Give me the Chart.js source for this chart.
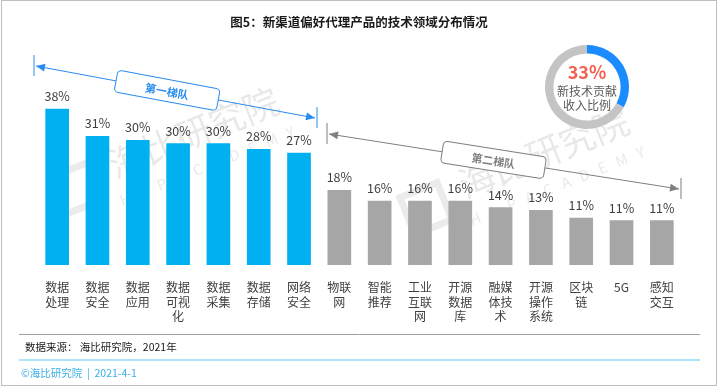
<!DOCTYPE html>
<html>
<head>
<meta charset="utf-8">
<script src="https://cdn.jsdelivr.net/npm/chart.js@4/dist/chart.umd.min.js"></script>
<style>
  html, body { margin: 0; padding: 0; background: #fff; }
  #wrap { position: relative; width: 718px; height: 388px; }
  #main { position: absolute; left: 0; top: 0; }
  #donut { position: absolute; left: 537px; top: 37px; }
</style>
</head>
<body>
<div id="wrap">
  <canvas id="main" width="718" height="388"></canvas>
  <canvas id="donut" width="100" height="100"></canvas>
</div>
<script>
const categories = [
  ['数据', '处理'], ['数据', '安全'], ['数据', '应用'], ['数据', '可视', '化'],
  ['数据', '采集'], ['数据', '存储'], ['网络', '安全'], ['物联', '网'],
  ['智能', '推荐'], ['工业', '互联', '网'], ['开源', '数据', '库'], ['融媒', '体技', '术'],
  ['开源', '操作', '系统'], ['区块', '链'], ['5G'], ['感知', '交互']
]
const shares = [38, 31.4, 30.4, 29.6, 29.6, 28.2, 27.3, 18.2, 15.6, 15.6, 15.6, 14.0, 13.3, 11.4, 10.8, 10.8]
const shareLabels = ['38%', '31%', '30%', '30%', '30%', '28%', '27%', '18%', '16%', '16%', '16%', '14%', '13%', '11%', '11%', '11%']
const tierOneCount = 7
const newTechShare = [33, 67]

const FONT = '"Noto Sans CJK SC", "Noto Sans", sans-serif'
const BLUE = '#00b0f0'
const GRAY = '#a6a6a6'

function bracket(ctx, x1, y1, x2, y2, color, text) {
  ctx.save()
  ctx.strokeStyle = color
  ctx.fillStyle = color
  ctx.lineWidth = 1
  // end ticks
  ctx.beginPath()
  ctx.moveTo(x1 - 2, y1 - 11); ctx.lineTo(x1 - 2, y1 + 10)
  ctx.moveTo(x2 + 2, y2 - 11); ctx.lineTo(x2 + 2, y2 + 10)
  ctx.stroke()
  ctx.beginPath()
  ctx.moveTo(x1, y1); ctx.lineTo(x2, y2)
  ctx.stroke()
  const a = Math.atan2(y2 - y1, x2 - x1)
  const head = (x, y, dir) => {
    ctx.save()
    ctx.translate(x, y)
    ctx.rotate(a + dir)
    ctx.beginPath()
    ctx.moveTo(0, 0); ctx.lineTo(-9, -4); ctx.lineTo(-9, 4); ctx.closePath()
    ctx.fill()
    ctx.restore()
  }
  head(x2, y2, 0)
  head(x1, y1, Math.PI)
  // label box on the line
  const cx = (x1 + x2) / 2 - (x2 - x1) * 0.03
  const cy = y1 + (cx - x1) * Math.tan(a)
  ctx.translate(cx, cy)
  ctx.rotate(a)
  ctx.beginPath()
  ctx.roundRect(-52, -11, 104, 22, 4)
  ctx.fillStyle = '#fff'
  ctx.fill()
  ctx.stroke()
  ctx.fillStyle = color
  ctx.font = 'bold 11px ' + FONT
  ctx.textAlign = 'center'
  ctx.textBaseline = 'middle'
  ctx.fillText(text, 0, 1)
  ctx.restore()
}

function watermark(ctx, x, y) {
  ctx.save()
  ctx.translate(x, y)
  ctx.rotate(-22 * Math.PI / 180)
  ctx.fillStyle = 'rgba(0,0,0,0.09)'
  ctx.textAlign = 'center'
  ctx.textBaseline = 'middle'
  ctx.font = '36px ' + FONT
  ctx.fillText('海比研究院', 20, 0)
  ctx.font = '15px ' + FONT
  ctx.fillText('H   A   P   A   C   A   D   E   M   Y', 20, 36)
  ctx.strokeStyle = 'rgba(0,0,0,0.08)'
  ctx.lineWidth = 7
  ctx.strokeRect(-130, -12, 40, 40)
  ctx.restore()
}

const decor = {
  id: 'decor',
  beforeDatasetsDraw(chart) {
    const ctx = chart.ctx
    watermark(ctx, 175, 140)
    watermark(ctx, 525, 160)
  },
  afterDraw(chart) {
    const ctx = chart.ctx
    const meta = chart.getDatasetMeta(0)
    ctx.save()
    // frame
    ctx.strokeStyle = '#bfbfbf'
    ctx.lineWidth = 1
    ctx.strokeRect(1.5, 0.5, 715, 385)
    // title
    ctx.fillStyle = '#1a1a1a'
    ctx.font = 'bold 12.5px ' + FONT
    ctx.textAlign = 'center'
    ctx.textBaseline = 'middle'
    ctx.fillText('图5：新渠道偏好代理产品的技术领域分布情况', 359, 22)
    // value labels
    ctx.fillStyle = '#404040'
    ctx.font = '12.5px ' + FONT
    ctx.textBaseline = 'alphabetic'
    meta.data.forEach((bar, i) => {
      ctx.fillText(shareLabels[i], bar.x, bar.y - 8)
    })
    // footer
    ctx.strokeStyle = '#a0a0a0'
    ctx.beginPath(); ctx.moveTo(19, 334.5); ctx.lineTo(700, 334.5); ctx.stroke()
    ctx.strokeStyle = '#8fdcf5'
    ctx.lineWidth = 1.5
    ctx.beginPath(); ctx.moveTo(19, 360); ctx.lineTo(700, 360); ctx.stroke()
    ctx.textAlign = 'left'
    ctx.textBaseline = 'middle'
    ctx.fillStyle = '#1a1a1a'
    ctx.font = '10.5px ' + FONT
    ctx.fillText('数据来源： 海比研究院，2021年', 25, 347)
    ctx.fillStyle = '#3bb0e6'
    ctx.fillText('©海比研究院  |  2021-4-1', 21, 373)
    ctx.restore()

    bracket(ctx, 36, 66, 315, 118, '#2a8cf0', '第一梯队')
    bracket(ctx, 329, 134, 679, 189, '#7f7f7f', '第二梯队')
  }
}

new Chart(document.getElementById('main'), {
  type: 'bar',
  data: {
    labels: categories,
    datasets: [{
      data: shares,
      backgroundColor: shares.map((v, i) => i < tierOneCount ? BLUE : GRAY),
      barThickness: 23
    }]
  },
  options: {
    responsive: false,
    animation: false,
    devicePixelRatio: 1,
    layout: { padding: { left: 37, right: 36, top: 101, bottom: 57 } },
    plugins: { legend: { display: false }, tooltip: { enabled: false } },
    scales: {
      y: { display: false, min: 0, max: 40 },
      x: {
        grid: { display: false },
        border: { display: false },
        ticks: {
          color: '#404040',
          padding: 8,
          maxRotation: 0,
          autoSkip: false,
          font: { family: FONT, size: 12, lineHeight: 1.17 }
        }
      }
    }
  },
  plugins: [decor]
})

const donutText = {
  id: 'donutText',
  afterDraw(chart) {
    const ctx = chart.ctx
    ctx.save()
    ctx.textAlign = 'center'
    ctx.textBaseline = 'middle'
    ctx.fillStyle = '#f4604f'
    ctx.font = 'bold 18px ' + FONT
    ctx.fillText(newTechShare[0] + '%', 50, 35)
    ctx.fillStyle = '#595959'
    ctx.font = '12px ' + FONT
    ctx.fillText('新技术贡献', 50, 54)
    ctx.fillText('收入比例', 50, 68)
    ctx.restore()
  }
}

new Chart(document.getElementById('donut'), {
  type: 'doughnut',
  data: {
    labels: ['新技术', '其他'],
    datasets: [{ data: newTechShare, backgroundColor: ['#1a8cff', '#c4c4c4'], borderWidth: 0 }]
  },
  options: {
    responsive: false,
    animation: false,
    devicePixelRatio: 1,
    cutout: '80%',
    layout: { padding: 8 },
    plugins: { legend: { display: false }, tooltip: { enabled: false } }
  },
  plugins: [donutText]
})
</script>
</body>
</html>
